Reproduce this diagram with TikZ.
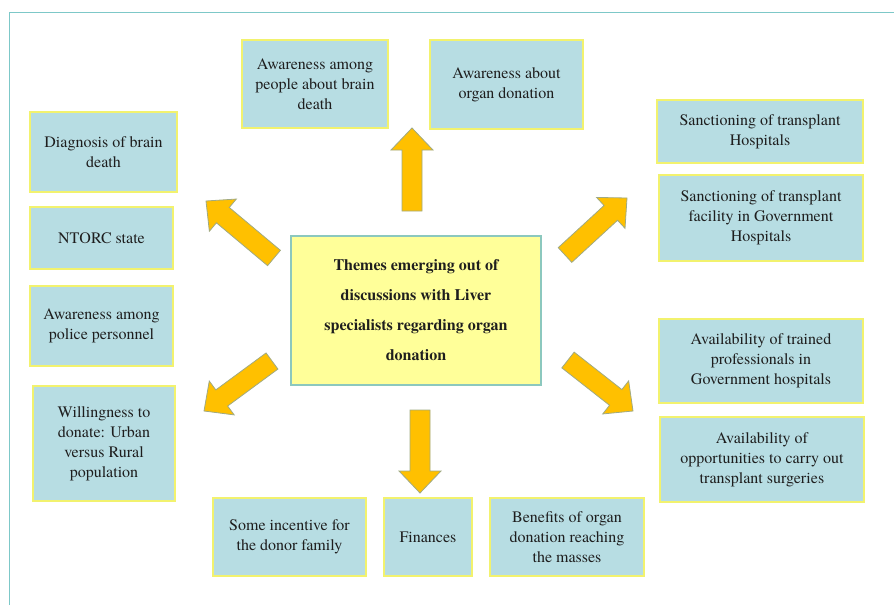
\documentclass[tikz,border=0pt]{standalone}
\usepackage{fontspec}
\setmainfont{texgyretermes}[Extension=.otf, UprightFont=*-regular, BoldFont=*-bold]
\usetikzlibrary{calc}
\definecolor{boxfill}{RGB}{183,221,227}
\definecolor{boxline}{RGB}{242,242,110}
\definecolor{cfill}{RGB}{255,255,153}
\definecolor{cline}{RGB}{140,200,190}
\definecolor{afill}{RGB}{255,192,0}
\definecolor{aline}{RGB}{160,170,130}
\definecolor{framecol}{RGB}{125,200,200}
\definecolor{txt}{RGB}{30,30,30}
\tikzset{
  box/.style={draw=boxline, fill=boxfill, line width=1.6pt, align=center, inner sep=0pt,
    text=txt, font=\fontsize{16}{20}\selectfont},
  centerbox/.style={draw=cline, fill=cfill, line width=1.2pt, align=center, inner sep=0pt,
    text=txt, font=\fontsize{16}{30}\selectfont\bfseries},
  blockarrow/.style={fill=afill, draw=aline, line width=0.8pt, line join=miter},
  framestyle/.style={draw=framecol, line width=1.5pt}
}
\newcommand\sw{10pt}
\newcommand\hw{21pt}
\newcommand\barrow[2]{%
  \coordinate (#1-h) at ($(#2)!22pt!(#1)$);
  \path[blockarrow] ($(#1)!\sw!90:(#2)$) -- ($(#1-h)!\sw!90:(#2)$) -- ($(#1-h)!\hw!90:(#2)$)
    -- (#2) -- ($(#1-h)!\hw!-90:(#2)$) -- ($(#1-h)!\sw!-90:(#2)$) -- ($(#1)!\sw!-90:(#2)$) -- cycle;}
\begin{document}
\begin{tikzpicture}[x=1pt,y=-1pt]
\useasboundingbox (0,0) rectangle (894,605);
\fill[white] (0,0) rectangle (894,605);
\coordinate (fbl) at (9.5,605);
\coordinate (ftl) at (9.5,12.5);
\coordinate (ftr) at (894,12.5);
\draw[framestyle] (fbl) -- (ftl) -- (ftr);

% boxes
\node[box, minimum width=146pt, minimum height=88pt] (a1) at (315,84) {Awareness among\\people about brain\\death};
\node[box, minimum width=153pt, minimum height=89pt] (a2) at (506.5,84.5) {Awareness about\\organ donation};
\node[box, minimum width=147pt, minimum height=80pt] (d) at (103.5,152) {Diagnosis of brain\\death};
\node[box, minimum width=143pt, minimum height=62pt] (n) at (101.5,238) {NTORC state};
\node[box, minimum width=143pt, minimum height=80pt] (p) at (101.5,326) {Awareness among\\police personnel};
\node[box, minimum width=142pt, minimum height=115pt] (w) at (104,443.5) {Willingness to\\donate: Urban\\versus Rural\\population};
\node[box, minimum width=153pt, minimum height=78pt] (s) at (289.5,537) {Some incentive for\\the donor family};
\node[box, minimum width=88pt, minimum height=78pt] (f) at (428,537) {Finances};
\node[box, minimum width=154pt, minimum height=78pt] (b) at (567,537) {Benefits of organ\\donation reaching\\the masses};
\node[box, minimum width=206pt, minimum height=63pt] (h1) at (760,131.5) {Sanctioning of transplant\\Hospitals};
\node[box, minimum width=204pt, minimum height=86pt] (h2) at (761,218) {Sanctioning of transplant\\facility in Government\\Hospitals};
\node[box, minimum width=204pt, minimum height=84pt] (t1) at (761,361) {Availability of trained\\professionals in\\Government hospitals};
\node[box, minimum width=204pt, minimum height=85pt] (t2) at (762,459.5) {Availability of\\opportunities to carry out\\transplant surgeries};
\node[centerbox, minimum width=250pt, minimum height=149pt] (c) at (416,310.5) {Themes emerging out of\\discussions with Liver\\specialists regarding organ\\donation};

% arrows
\coordinate (upT) at (412,211);   \coordinate (upH) at (412,128);
\coordinate (dnT) at (420,410);   \coordinate (dnH) at (420,493);
\coordinate (ulT) at (274,258);   \coordinate (ulH) at (206,201);
\coordinate (llT) at (272,361);   \coordinate (llH) at (204,411);
\coordinate (urT) at (565,255);   \coordinate (urH) at (627,198);
\coordinate (lrT) at (568,360);   \coordinate (lrH) at (633,411);
\barrow{upT}{upH}
\barrow{dnT}{dnH}
\barrow{ulT}{ulH}
\barrow{llT}{llH}
\barrow{urT}{urH}
\barrow{lrT}{lrH}
\end{tikzpicture}
\end{document}
